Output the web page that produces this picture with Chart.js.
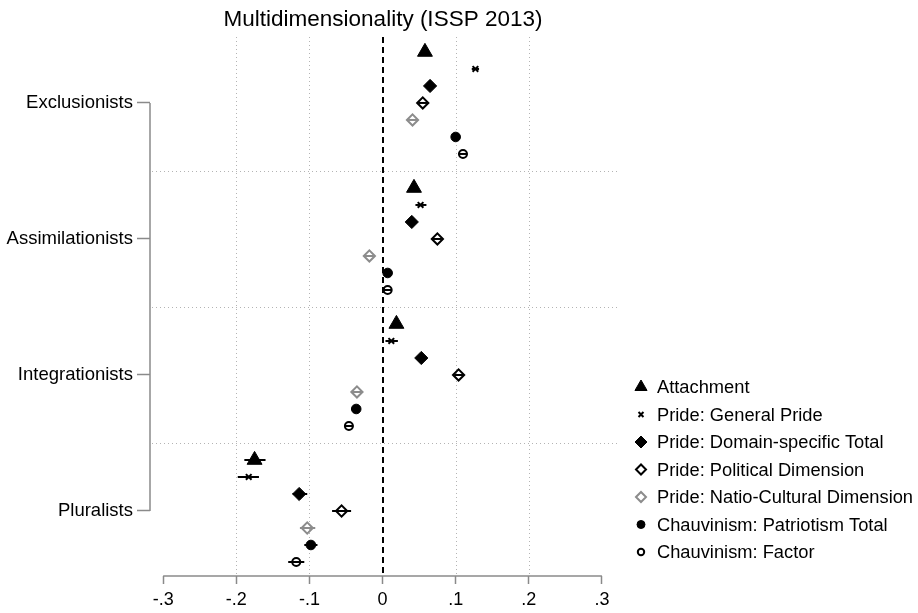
<!DOCTYPE html>
<html lang="en">
<head>
<meta charset="UTF-8">
<title>Multidimensionality (ISSP 2013)</title>
<script src="https://cdn.jsdelivr.net/npm/chart.js"></script>
<style>
  html, body { margin: 0; padding: 0; background: #fff; }
  canvas { display: block; }
</style>
</head>
<body>
<canvas id="myChart" width="918" height="613"></canvas>
<script>
// groups on the y axis, top to bottom
const groups = ['Exclusionists', 'Assimilationists', 'Integrationists', 'Pluralists'];
const xTicks = [-0.3, -0.2, -0.1, 0, 0.1, 0.2, 0.3];
const seriesNames = [
  'Attachment',
  'Pride: General Pride',
  'Pride: Domain-specific Total',
  'Pride: Political Dimension',
  'Pride: Natio-Cultural Dimension',
  'Chauvinism: Patriotism Total',
  'Chauvinism: Factor'
];

// point estimates, one per group
const attachment      = [0.058, 0.043, 0.019, -0.175];
const generalPride    = [0.127, 0.052, 0.012, -0.183];
const domainTotal     = [0.065, 0.040, 0.053, -0.114];
const politicalDim    = [0.055, 0.075, 0.104, -0.056];
const natioCultural   = [0.041, -0.018, -0.035, -0.103];
const patriotismTotal = [0.100, 0.007, -0.036, -0.098];
const chauvFactor     = [0.110, 0.007, -0.046, -0.118];

// confidence intervals [lo, hi], one per group
const attachmentCI      = [[0.052, 0.064], [0.037, 0.049], [0.013, 0.025], [-0.189, -0.160]];
const generalPrideCI    = [[0.122, 0.132], [0.045, 0.060], [0.004, 0.021], [-0.198, -0.169]];
const domainTotalCI     = [[0.060, 0.070], [0.035, 0.045], [0.048, 0.058], [-0.123, -0.103]];
const politicalDimCI    = [[0.049, 0.061], [0.069, 0.081], [0.098, 0.110], [-0.069, -0.043]];
const natioCulturalCI   = [[0.035, 0.047], [-0.024, -0.012], [-0.041, -0.029], [-0.113, -0.092]];
const patriotismTotalCI = [[0.095, 0.105], [0.002, 0.012], [-0.041, -0.031], [-0.107, -0.089]];
const chauvFactorCI     = [[0.104, 0.116], [0.001, 0.013], [-0.052, -0.040], [-0.129, -0.107]];

const estimates = [attachment, generalPride, domainTotal, politicalDim, natioCultural, patriotismTotal, chauvFactor];
const intervals = [attachmentCI, generalPrideCI, domainTotalCI, politicalDimCI, natioCulturalCI, patriotismTotalCI, chauvFactorCI];

const FONT = '"Liberation Sans", Arial, Helvetica, sans-serif';
const AXIS_GRAY = '#8a8a8a';
const GRID_GRAY = '#b4b4b4';
const NATIO_GRAY = '#8c8c8c';

// marker look for each series
const styles = [
  { pointStyle: 'triangle', radius: 8.6, fill: '#000', border: '#000', bw: 1, legendRadius: 7 },
  { pointStyle: 'crossRot', radius: 4, fill: '#000', border: '#000', bw: 2, legendRadius: 3.5 },
  { pointStyle: 'rectRot', radius: 6.6, fill: '#000', border: '#000', bw: 1, legendRadius: 6 },
  { pointStyle: 'rectRot', radius: 5.6, fill: 'rgba(0,0,0,0)', border: '#000', bw: 2, legendRadius: 5 },
  { pointStyle: 'rectRot', radius: 5.6, fill: 'rgba(0,0,0,0)', border: NATIO_GRAY, bw: 2, legendRadius: 5 },
  { pointStyle: 'circle', radius: 4.8, fill: '#000', border: '#000', bw: 1, legendRadius: 4 },
  { pointStyle: 'circle', radius: 4, fill: 'rgba(0,0,0,0)', border: '#000', bw: 2, legendRadius: 3.2 }
];

const STEP = 0.125; // vertical spacing of series within a group

const datasets = seriesNames.map((name, i) => ({
  label: name,
  data: estimates[i].map((v, g) => ({ x: v, y: g + (i - 3) * STEP })),
  ci: intervals[i],
  pointStyle: styles[i].pointStyle,
  pointRadius: styles[i].radius,
  pointBackgroundColor: styles[i].fill,
  pointBorderColor: styles[i].border,
  pointBorderWidth: styles[i].bw,
  showLine: false
}));

const coefPlot = {
  id: 'coefPlot',
  beforeDatasetsDraw(chart) {
    const { ctx, chartArea: a, scales: { x, y } } = chart;
    ctx.save();

    // dotted vertical grid
    ctx.strokeStyle = GRID_GRAY;
    ctx.lineWidth = 1;
    ctx.setLineDash([1, 3]);
    xTicks.forEach(v => {
      if (v === 0 || Math.abs(v) > 0.25) return;
      const px = Math.round(x.getPixelForValue(v)) + 0.5;
      ctx.beginPath();
      ctx.moveTo(px, a.top);
      ctx.lineTo(px, a.bottom);
      ctx.stroke();
    });

    // dotted separators between groups
    for (let g = 0; g < groups.length - 1; g++) {
      const py = Math.round(y.getPixelForValue(g + 0.5)) + 0.5;
      ctx.beginPath();
      ctx.moveTo(a.left + 2, py);
      ctx.lineTo(a.right, py);
      ctx.stroke();
    }

    // dashed zero line
    ctx.strokeStyle = '#000';
    ctx.lineWidth = 2;
    ctx.setLineDash([6, 4]);
    const zx = Math.round(x.getPixelForValue(0));
    ctx.beginPath();
    ctx.moveTo(zx, a.top);
    ctx.lineTo(zx, a.bottom);
    ctx.stroke();
    ctx.setLineDash([]);

    // axis lines, only over the tick span
    ctx.strokeStyle = AXIS_GRAY;
    ctx.lineWidth = 1.5;
    ctx.beginPath();
    ctx.moveTo(x.getPixelForValue(xTicks[0]), a.bottom);
    ctx.lineTo(x.getPixelForValue(xTicks[xTicks.length - 1]), a.bottom);
    ctx.moveTo(a.left, y.getPixelForValue(0));
    ctx.lineTo(a.left, y.getPixelForValue(groups.length - 1));
    ctx.stroke();

    // confidence interval bars
    ctx.lineWidth = 2;
    chart.data.datasets.forEach((ds, i) => {
      ctx.strokeStyle = styles[i].border;
      ds.data.forEach((p, g) => {
        const py = y.getPixelForValue(p.y);
        ctx.beginPath();
        ctx.moveTo(x.getPixelForValue(ds.ci[g][0]), py);
        ctx.lineTo(x.getPixelForValue(ds.ci[g][1]), py);
        ctx.stroke();
      });
    });
    ctx.restore();
  },
  afterDraw(chart) {
    const { ctx, chartArea: a } = chart;
    ctx.save();
    // title, centred over the plot region
    ctx.fillStyle = '#000';
    ctx.font = '22.5px ' + FONT;
    ctx.textAlign = 'center';
    ctx.textBaseline = 'middle';
    ctx.fillText('Multidimensionality (ISSP 2013)', (a.left + a.right) / 2 - 1, 20);

    // legend
    ctx.font = '18.3px ' + FONT;
    ctx.textAlign = 'left';
    seriesNames.forEach((name, i) => {
      const ly = 387 + i * 27.5;
      const s = styles[i];
      ctx.fillStyle = s.fill;
      ctx.strokeStyle = s.border;
      ctx.lineWidth = s.bw;
      Chart.helpers.drawPoint(ctx, { pointStyle: s.pointStyle, radius: s.legendRadius, rotation: 0, borderWidth: s.bw }, 641, ly);
      ctx.fillStyle = '#000';
      ctx.fillText(name, 657, ly + 1);
    });
    ctx.restore();
  }
};

new Chart(document.getElementById('myChart'), {
  type: 'scatter',
  data: { datasets },
  options: {
    responsive: false,
    animation: false,
    events: [],
    layout: { padding: { top: 37, right: 300, left: 0, bottom: 0 } },
    plugins: { legend: { display: false }, tooltip: { enabled: false }, title: { display: false } },
    scales: {
      x: {
        type: 'linear',
        min: -0.318,
        max: 0.322,
        afterBuildTicks: scale => { scale.ticks = xTicks.map(v => ({ value: v })); },
        afterFit: scale => { scale.height = 37; },
        border: { display: false },
        grid: { drawOnChartArea: false, drawTicks: true, tickLength: 8, tickColor: AXIS_GRAY, tickWidth: 1.5 },
        ticks: {
          padding: 5,
          color: '#000',
          font: { family: FONT, size: 18 },
          maxRotation: 0,
          callback: v => v === 0 ? '0' : v.toFixed(1).replace('0.', '.')
        }
      },
      y: {
        type: 'linear',
        reverse: true,
        min: -0.485,
        max: 3.478,
        afterBuildTicks: scale => { scale.ticks = groups.map((g, i) => ({ value: i })); },
        afterFit: scale => { scale.width = 150; },
        border: { display: false },
        grid: { drawOnChartArea: false, drawTicks: true, tickLength: 13, tickColor: AXIS_GRAY, tickWidth: 1.5 },
        ticks: {
          padding: 4,
          color: '#000',
          font: { family: FONT, size: 18.5 },
          callback: v => groups[v] || ''
        }
      }
    }
  },
  plugins: [coefPlot]
});
</script>
</body>
</html>
